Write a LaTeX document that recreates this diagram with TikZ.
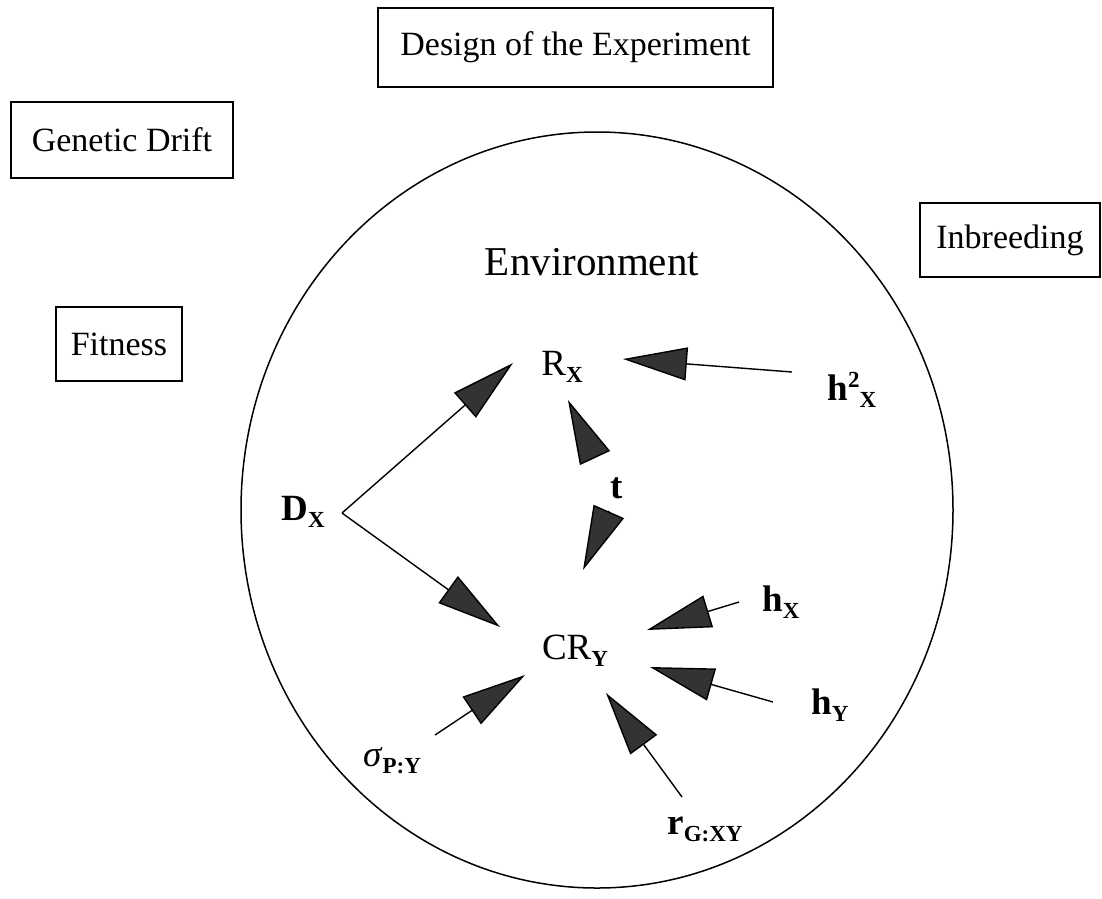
\documentclass[tikz,border=0pt]{standalone}
\usepackage{fontspec}
\setmainfont{Liberation Serif}
\usetikzlibrary{arrows.meta}
\newcommand{\bsub}[1]{\raisebox{-7pt}{\fontsize{23}{23}\selectfont\bfseries #1}}
\newcommand{\bsup}[1]{\raisebox{13pt}{\fontsize{23}{23}\selectfont\bfseries #1}}
\begin{document}
\begin{tikzpicture}[x=1pt,y=-1pt,
  box/.style={draw, line width=1.5pt, inner sep=0pt, font=\fontsize{34}{40}\selectfont},
  lbl/.style={inner sep=0pt, font=\fontsize{37}{40}\selectfont},
  arr/.style={line width=1.4pt, -{Triangle[length=64pt,width=33pt,fill=black!80]}},
  oval/.style={draw, line width=1.5pt}
]
\useasboundingbox (0,0) rectangle (1102,898);
% outer boxes
\node[box, minimum width=395pt, minimum height=79pt] (design) at (575.5,47.5) {Design of the Experiment};
\node[box, minimum width=222pt, minimum height=76pt] (drift) at (122,140) {Genetic Drift};
\node[box, minimum width=126pt, minimum height=74pt] (fitness) at (119,344) {Fitness};
\node[box, minimum width=180pt, minimum height=74pt] (inbreed) at (1010,240) {Inbreeding};
% environment oval
\draw[oval] (597,510) ellipse [x radius=356pt, y radius=378pt];
\node[inner sep=0pt, font=\fontsize{41}{44}\selectfont] (env) at (592,262) {Environment};
% labels
\node[lbl] (Rx) at (562,367) {R\bsub{X}};
\node[lbl] (h2x) at (852,390) {\textbf{h}\bsup{2}\bsub{X}};
\node[lbl] (t) at (617,488) {\textbf{t}};
\node[lbl] (Dx) at (303,512) {\textbf{D}\bsub{X}};
\node[lbl] (CRy) at (575,651) {CR\bsub{Y}};
\node[lbl] (hx) at (781,602) {\textbf{h}\bsub{X}};
\node[lbl] (hy) at (830,705) {\textbf{h}\bsub{Y}};
\node[lbl] (sig) at (392,761) {\textit{σ}\bsub{P:Y}};
\node[lbl] (rg) at (705,829) {\textbf{r}\bsub{G:XY}};
% connector end points
\coordinate (h2xS) at (792,372);
\coordinate (RxE) at (623,359);
\coordinate (DxS) at (342,513);
\coordinate (RxW) at (513,363);
\coordinate (CRnw) at (500,627);
\coordinate (hxS) at (739,602);
\coordinate (CRne) at (647,630);
\coordinate (hyS) at (773,702);
\coordinate (CRe) at (650,667);
\coordinate (sigS) at (435,735);
\coordinate (CRsw) at (525,675);
\coordinate (rgS) at (682,797);
\coordinate (CRs) at (606,693);
\coordinate (tN) at (595,458);
\coordinate (RxS) at (568,400);
\coordinate (tS) at (609,511);
\coordinate (CRn) at (583,570);
% connectors
\draw[arr] (h2xS) -- (RxE);
\draw[arr] (DxS) -- (RxW);
\draw[arr] (DxS) -- (CRnw);
\draw[arr] (hxS) -- (CRne);
\draw[arr] (hyS) -- (CRe);
\draw[arr] (sigS) -- (CRsw);
\draw[arr] (rgS) -- (CRs);
\draw[arr] (tN) -- (RxS);
\draw[arr] (tS) -- (CRn);
\end{tikzpicture}
\end{document}
